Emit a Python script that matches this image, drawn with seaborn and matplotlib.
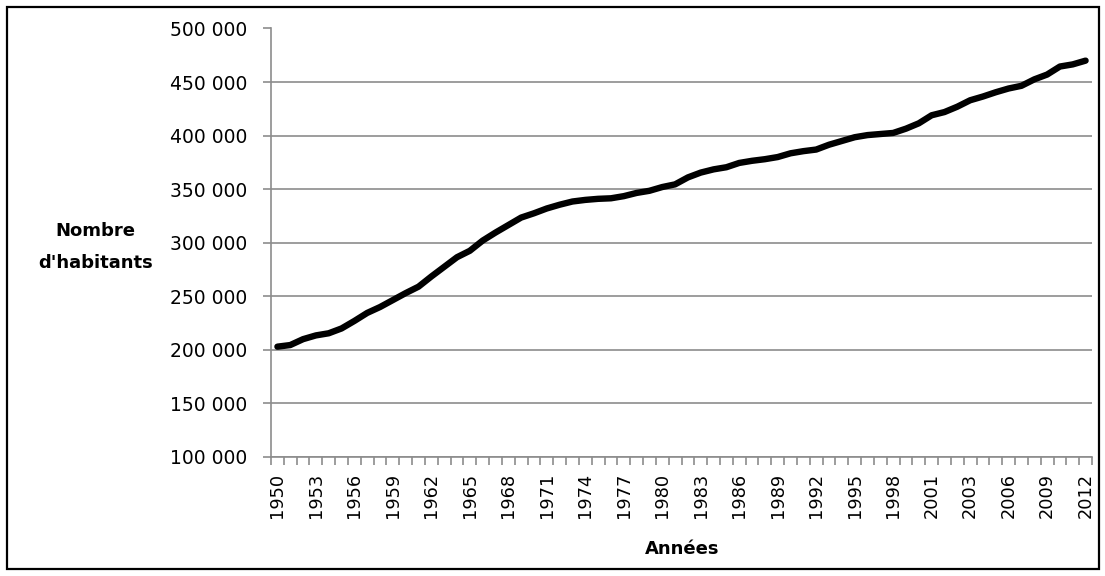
import numpy as np
import pandas as pd
import matplotlib.pyplot as plt
import seaborn as sns
from matplotlib.ticker import FuncFormatter, FixedLocator

# ── Données ──
# 64 catégories sur l'axe : 1950-2001, deux points en 2002, puis 2003-2012
ANNEES = list(range(1950, 2002)) + [2002, 2002] + list(range(2003, 2013))

HABITANTS = [
    203000, 204500, 210000, 213500, 215500, 220000, 227000, 234500,
    240000, 246500, 253000, 259000, 268500, 277500, 286500, 292500,
    302000, 309500, 316500, 323500, 327500, 332000, 335500, 338500,
    340000, 341000, 341500, 343500, 346500, 348500, 352000, 354500,
    361000, 365500, 368500, 370500, 374500, 376500, 378000, 380000,
    383500, 385500, 387000, 391500, 395000, 398500, 400500, 401500,
    402500, 406500, 411500, 419000, 422000, 427000, 433000, 436500,
    440500, 444000, 446500, 452500, 457000, 464500, 466500, 470000,
]

Y_TICKS = [100000, 150000, 200000, 250000, 300000, 350000, 400000, 450000, 500000]

df = pd.DataFrame({'rang': np.arange(len(HABITANTS)),
                   'annee': ANNEES,
                   'habitants': HABITANTS})

# ── Style ──
sns.set_theme(style='white')
plt.rcParams['font.family'] = ['DejaVu Sans']

GRIS = '#8c8c8c'

fig = plt.figure(figsize=(11.05, 5.76), dpi=100)
fig.patch.set_facecolor('white')
ax = fig.add_axes([271 / 1105, 1 - 457 / 576, 821 / 1105, 428.5 / 576])

sns.lineplot(data=df, x='rang', y='habitants', ax=ax,
             color='black', linewidth=4.6,
             solid_capstyle='round', solid_joinstyle='round')

# ── Axes ──
ax.set_xlim(-0.5, len(HABITANTS) - 0.5)
ax.set_ylim(Y_TICKS[0], Y_TICKS[-1])

ax.set_yticks(Y_TICKS)
ax.yaxis.set_major_formatter(
    FuncFormatter(lambda v, p: f'{v:,.0f}'.replace(',', ' ')))
ax.grid(axis='y', color=GRIS, linewidth=1.2)
ax.grid(axis='x', visible=False)

# étiquettes toutes les 3 catégories, graduations entre catégories
lab_pos = list(range(0, len(ANNEES), 3))
ax.xaxis.set_major_locator(FixedLocator(lab_pos))
ax.set_xticklabels([str(ANNEES[i]) for i in lab_pos],
                   rotation=90, ha='center', va='top')
ax.xaxis.set_minor_locator(
    FixedLocator(np.arange(len(ANNEES) + 1) - 0.5))

ax.tick_params(axis='x', which='major', length=0, pad=11.5,
               labelsize=12.8, labelcolor='black')
ax.tick_params(axis='x', which='minor', bottom=True, length=6,
               width=1.2, color=GRIS, direction='out')
ax.tick_params(axis='y', left=True, length=6, width=1.2, color=GRIS,
               direction='out', pad=11, labelsize=13.5, labelcolor='black')

for side in ['top', 'right']:
    ax.spines[side].set_visible(False)
for side in ['left', 'bottom']:
    ax.spines[side].set_color(GRIS)
    ax.spines[side].set_linewidth(1.2)

# ── Titres des axes ──
ax.set_xlabel('Années', fontsize=13, fontweight='bold', color='black')
ax.xaxis.set_label_coords(0.5006, -0.2147)
ax.xaxis.label.set_va('center')

ax.set_ylabel('Nombre\nd\'habitants', fontsize=13, fontweight='bold',
              color='black', rotation=0, ha='center', va='center',
              linespacing=1.95)
ax.yaxis.set_label_coords(-0.2138, 0.49)

# ── Cadre extérieur ──
fig.add_artist(plt.Rectangle((7 / 1105, 7 / 576),
                             1092 / 1105, 562 / 576,
                             transform=fig.transFigure,
                             fill=False, edgecolor='black', linewidth=1.6))

plt.savefig('out.png', dpi=100, facecolor='white')
plt.close()
